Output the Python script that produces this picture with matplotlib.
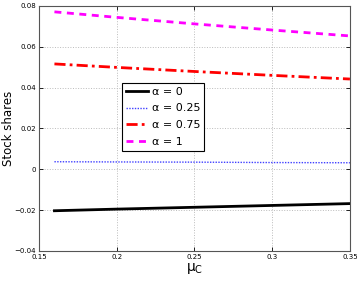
import matplotlib
matplotlib.use("Agg")
import matplotlib.pyplot as plt

mu_c = [0.16, 0.20, 0.25, 0.30, 0.35]
share_a0 = [-0.0203, -0.0195, -0.0186, -0.0177, -0.0168]
share_a025 = [0.0037, 0.0036, 0.0035, 0.0033, 0.0032]
share_a075 = [0.0516, 0.0499, 0.0479, 0.0460, 0.0442]
share_a1 = [0.0771, 0.0744, 0.0712, 0.0682, 0.0653]

labels = ["\u03b1 = 0", "\u03b1 = 0.25", "\u03b1 = 0.75", "\u03b1 = 1"]

fig = plt.figure(figsize=(3.6, 2.82), dpi=100)
ax = fig.add_axes([0.108, 0.110, 0.864, 0.869])

ax.plot(mu_c, share_a0, color="black", lw=2.0, label=labels[0])
ax.plot(mu_c, share_a025, color="#4040ff", lw=1.0, ls=(0, (1, 1)), label=labels[1])
ax.plot(mu_c, share_a075, color="red", lw=2.0, ls=(0, (4, 1.5, 1, 1.5)), label=labels[2])
ax.plot(mu_c, share_a1, color="#ff00ff", lw=2.0, ls=(0, (2.5, 2)), label=labels[3])

ax.set_xlim(0.15, 0.35)
ax.set_ylim(-0.04, 0.08)
ax.set_xticks([0.15, 0.2, 0.25, 0.3, 0.35])
ax.set_xticklabels(["0.15", "0.2", "0.25", "0.3", "0.35"])
ax.set_yticks([-0.04, -0.02, 0, 0.02, 0.04, 0.06, 0.08])
ax.set_yticklabels(["\u22120.04", "\u22120.02", "0", "0.02", "0.04", "0.06", "0.08"])
ax.tick_params(direction="in", labelsize=5, length=3, top=True, right=True, width=0.6, pad=2)
ax.grid(True, ls=":", color="#bbbbbb", lw=0.7)
for s in ax.spines.values():
    s.set_color("#555555")
    s.set_linewidth(0.8)

ax.set_ylabel("Stock shares", fontsize=8.5)
ax.yaxis.set_label_coords(-0.077, 0.5)
ax.set_xlabel(r"$\mathregular{\mu_C}$", fontsize=10, labelpad=1)

leg = ax.legend(loc="upper left", bbox_to_anchor=(0.268, 0.686), fontsize=8,
                fancybox=False, framealpha=1, edgecolor="black",
                handlelength=2.0, handletextpad=0.3, borderpad=0.35,
                labelspacing=0.6, borderaxespad=0)
leg.get_frame().set_linewidth(0.8)

fig.savefig("out.png", dpi=100, facecolor="white")
